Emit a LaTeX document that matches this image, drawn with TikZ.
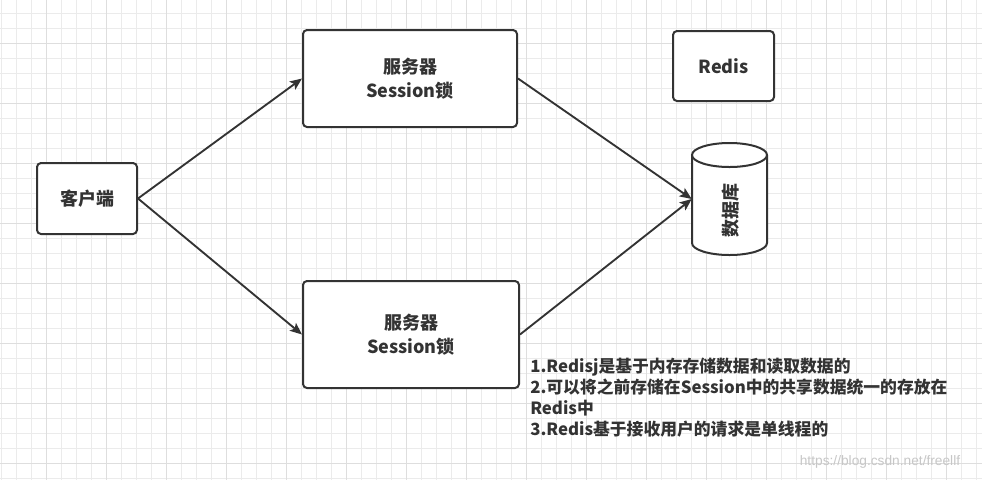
\documentclass[tikz,border=0pt]{standalone}
\usepackage{fontspec}
\setmainfont{Noto Sans CJK SC}
\newfontfamily\wmfont{Liberation Sans}
\usetikzlibrary{arrows.meta}
\definecolor{ink}{HTML}{333333}
\definecolor{gridfine}{HTML}{EBEBEB}
\definecolor{gridmajor}{HTML}{DEDEDE}
\tikzset{
  box/.style={draw=ink, line width=1.5pt, rounded corners=3pt, fill=white,
    text=ink, font=\bfseries\fontsize{13.5pt}{18pt}\selectfont, align=center, inner sep=0pt},
  conn/.style={draw=ink, line width=1.4pt, -{Stealth[length=9pt,width=7.5pt,inset=2pt]}},
  notetext/.style={text=ink, font=\bfseries\fontsize{12.6pt}{15.75pt}\selectfont, align=left, inner sep=0pt}
}
\begin{document}
\begin{tikzpicture}[x=0.75pt,y=-0.75pt]
\useasboundingbox (0,0) rectangle (982,480);
\fill[white] (0,0) rectangle (982,480);
% grid
\foreach \k in {0,...,65} {
  \draw[gridfine, line width=0.6pt] (1.7+15*\k,0) -- (1.7+15*\k,480);
}
\foreach \k in {0,...,32} {
  \draw[gridfine, line width=0.6pt] (0,13.3+15*\k) -- (982,13.3+15*\k);
}
\foreach \k in {0,...,15} {
  \draw[gridmajor, line width=0.7pt] (46.7+60*\k,0) -- (46.7+60*\k,480);
}
\foreach \k in {-1,...,7} {
  \draw[gridmajor, line width=0.7pt] (0,43.3+60*\k) -- (982,43.3+60*\k);
}
% nodes
\node[box, minimum width=75pt, minimum height=53.25pt] (client) at (87,198.5) {客户端};
\node[box, minimum width=160.5pt, minimum height=72.75pt] (s1) at (410,78.5) {服务器\\Session锁};
\node[box, minimum width=162pt, minimum height=80.25pt] (s2) at (411,334.5) {服务器\\Session锁};
\node[box, minimum width=75.75pt, minimum height=52.5pt] (redis) at (723.5,66) {Redis};
% database cylinder
\node[minimum width=56.25pt, minimum height=84pt, inner sep=0pt] (db) at (729.5,199) {};
\draw[draw=ink, fill=white, line width=1.5pt]
  (692,155) -- (692,243) arc[start angle=180, end angle=0, x radius=37.5, y radius=12] -- (767,155);
\draw[draw=ink, fill=white, line width=1.5pt] (729.5,155) ellipse[x radius=37.5, y radius=12];
\node[text=ink, font=\bfseries\fontsize{13.5pt}{18pt}\selectfont, rotate=90, inner sep=0pt] (dblabel) at (731,210) {数据库};
% connectors
\draw[conn] (client.east) -- (s1.west);
\draw[conn] (client.east) -- (s2.west);
\draw[conn] (s1.east) -- (db.west);
\draw[conn] (s2.east) -- (db.west);
% note
\node[notetext, anchor=north west] (note) at (530,358) {1.Redisj是基于内存存储数据和读取数据的\\2.可以将之前存储在Session中的共享数据统一的存放在\\Redis中\\3.Redis基于接收用户的请求是单线程的};
% watermark
\node[text=black!22, font=\wmfont\fontsize{10.3pt}{12pt}\selectfont, inner sep=0pt] (wm) at (880,462) {https://blog.csdn.net/freellf};
\end{tikzpicture}
\end{document}
